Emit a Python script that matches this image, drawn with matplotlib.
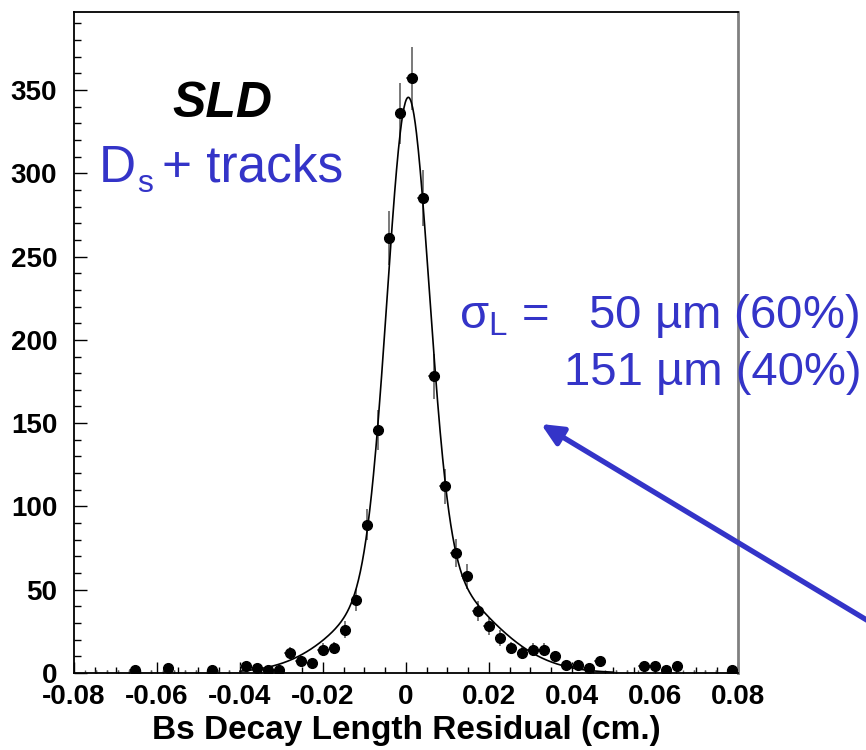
import numpy as np
import matplotlib
matplotlib.use('Agg')
import matplotlib.pyplot as plt
from matplotlib.ticker import MultipleLocator

plt.rcParams['font.family'] = ['Liberation Sans', 'DejaVu Sans']
plt.rcParams['mathtext.fontset'] = 'custom'
plt.rcParams['mathtext.rm'] = 'Liberation Sans'
plt.rcParams['mathtext.it'] = 'Liberation Sans:italic'
plt.rcParams['mathtext.bf'] = 'Liberation Sans:bold'

# histogram: 60 bins from -0.08 to 0.08 cm, filled bins only
nbins = 60
xlo, xhi = -0.08, 0.08
bin_idx = [5, 8, 12, 15, 16, 17, 18, 19, 20, 21, 22, 23, 24, 25, 26, 27, 28, 29,
           30, 31, 32, 33, 34, 35, 36, 37, 38, 39, 40, 41, 42, 43, 44, 45, 46, 47,
           51, 52, 53, 54, 59]
counts = [2, 3, 2, 4, 3, 2, 2, 12, 7, 6, 14, 15, 26, 44, 89, 146, 261, 336,
          357, 285, 178, 112, 72, 58, 37, 28, 21, 15, 12, 14, 14, 10, 5, 5, 3, 7,
          4, 4, 2, 4, 2]
empty_idx = list(range(1, 15)) + [48, 49, 50, 55, 56, 57, 58]

# double gaussian fit: widths in cm, fractions, means
sig1, sig2 = 0.0050, 0.0151
frac1, frac2 = 0.60, 0.40
mu1, mu2 = 0.0005, 0.0030
fit_lo, fit_hi = -0.040, 0.050

bw = (xhi - xlo) / nbins
centers = xlo + (np.array(bin_idx) + 0.5) * bw
counts = np.array(counts, dtype=float)
empty_centers = xlo + (np.array(empty_idx) + 0.5) * bw
ntot = counts.sum()

def fit(x):
    g1 = frac1 * ntot * bw / (np.sqrt(2 * np.pi) * sig1) * np.exp(-0.5 * ((x - mu1) / sig1) ** 2)
    g2 = frac2 * ntot * bw / (np.sqrt(2 * np.pi) * sig2) * np.exp(-0.5 * ((x - mu2) / sig2) ** 2)
    return g1 + g2

W, H = 866, 750
fig = plt.figure(figsize=(W / 100, H / 100), dpi=100)
ax = fig.add_axes([74 / W, 1 - 673 / H, (738 - 74) / W, (673 - 11.7) / H])

blue = '#3434c8'

ax.errorbar(empty_centers, np.zeros(len(empty_centers)), xerr=bw / 2, fmt='none',
            ecolor='#555555', elinewidth=1.0, capsize=2.5, capthick=1.0)
ax.errorbar(centers, counts, xerr=bw / 2, yerr=np.sqrt(counts), fmt='o',
            color='black', ms=7, ecolor='#555555', elinewidth=1.1, zorder=3)

xf = np.linspace(fit_lo, fit_hi, 600)
ax.plot(xf, fit(xf), color='black', lw=1.2, zorder=4)

ax.set_xlim(xlo, xhi)
ax.set_ylim(0, 397)
ax.xaxis.set_minor_locator(MultipleLocator(0.005))
ax.yaxis.set_major_locator(MultipleLocator(50))
ax.yaxis.set_minor_locator(MultipleLocator(10))
ax.set_xticks(np.arange(-0.08, 0.081, 0.02))
ax.set_xticklabels(['-0.08', '-0.06', '-0.04', '-0.02', '0', '0.02', '0.04', '0.06', '0.08'])

ax.tick_params(axis='both', which='both', direction='in', top=False, right=False, width=1.0)
ax.tick_params(axis='x', which='major', length=8, pad=8, labelsize=20)
ax.tick_params(axis='x', which='minor', length=4)
ax.tick_params(axis='y', which='major', length=9.5, pad=12, labelsize=20)
ax.tick_params(axis='y', which='minor', length=5)
for lab in ax.get_xticklabels() + ax.get_yticklabels():
    lab.set_fontweight('bold')

for side in ['left', 'bottom', 'top']:
    ax.spines[side].set_linewidth(1.3)
    ax.spines[side].set_color('black')
ax.spines['right'].set_color('#808080')
ax.spines['right'].set_linewidth(2.0)

def fx(px):
    return px / W

def fy(py):
    return 1 - py / H

fig.text(fx(406), fy(739), 'Bs Decay Length Residual (cm.)', ha='center', va='baseline',
         fontsize=24, fontweight='bold')

fig.text(fx(172), fy(117), 'SLD', ha='left', va='baseline', fontsize=36,
         fontweight='bold', style='italic')
fig.text(fx(99), fy(182), 'D', ha='left', va='baseline', fontsize=37, color=blue)
fig.text(fx(137), fy(192), 's', ha='left', va='baseline', fontsize=23, color=blue)
fig.text(fx(162), fy(182), '+ tracks', ha='left', va='baseline', fontsize=37, color=blue)

fig.text(fx(859), fy(328), r'σ$_{\mathregular{L}}$ =   50 µm (60%)', ha='right',
         va='baseline', fontsize=34, color=blue)
fig.text(fx(862), fy(385), '151 µm (40%)', ha='right', va='baseline', fontsize=34,
         color=blue)

ax.annotate('', xy=(541, H - 424), xycoords='figure pixels',
            xytext=(880, H - 628), textcoords='figure pixels',
            arrowprops=dict(arrowstyle='-|>,head_length=1.3,head_width=0.6',
                            color=blue, lw=3.8, shrinkA=0, shrinkB=0),
            annotation_clip=False)

fig.savefig('out.png', dpi=100)
